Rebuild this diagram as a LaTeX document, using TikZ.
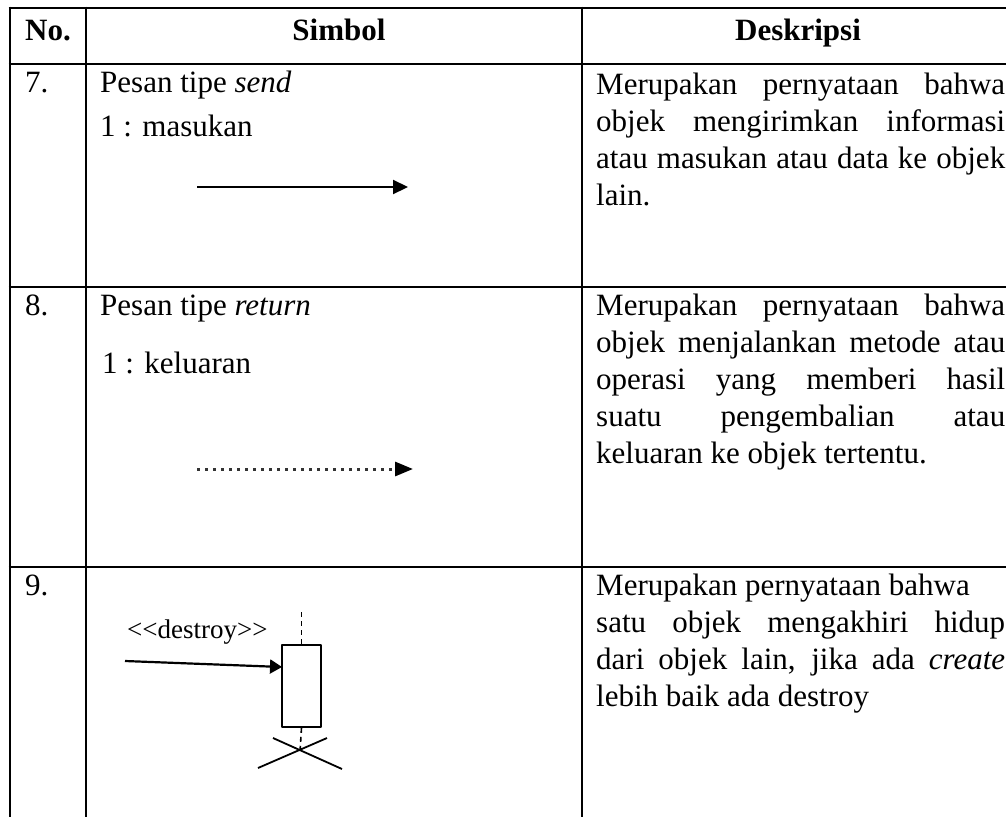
\documentclass[tikz,border=0pt]{standalone}
\usepackage{fontspec}
\setmainfont{Liberation Serif}
\usetikzlibrary{arrows.meta}
\tikzset{
  txt/.style={anchor=base west,inner sep=0pt,font=\fontsize{31}{37}\selectfont},
  hd/.style={anchor=base,inner sep=0pt,font=\fontsize{31}{37}\selectfont\bfseries},
  rule/.style={line width=2.6pt},
  msg/.style={line width=2.2pt,-{Triangle[length=15pt,width=14pt]}}
}
\newcommand{\jline}[1]{\makebox[409pt][s]{#1}}
\begin{document}
\begin{tikzpicture}[x=1pt,y=-1pt,line join=round]
  \useasboundingbox (0,0) rectangle (1006,817);
  \foreach \y in {8,64,287,567} \draw[rule] (8.7,\y) -- (1006,\y);
  \foreach \x in {10,86,582} \draw[rule] (\x,6.7) -- (\x,817);
  \node[hd] (no) at (48,40) {No.};
  \node[hd] (simbol) at (339,40) {Simbol};
  \node[hd] (desk) at (798,40) {Deskripsi};
  \node[txt] (n7) at (25,92) {7.};
  \node[txt] (send) at (100,92) {Pesan tipe \textit{send}};
  \node[txt] (masukan) at (100,136) {1 : masukan};
  \coordinate (s0) at (197,187);
  \coordinate (s1) at (408,187);
  \draw[msg] (s0) -- (s1);
  \node[txt] (d7a) at (596,94) {\jline{Merupakan pernyataan bahwa}};
  \node[txt] (d7b) at (596,131) {\jline{objek mengirimkan informasi}};
  \node[txt] (d7c) at (596,168) {\jline{atau masukan atau data ke objek}};
  \node[txt] (d7d) at (596,205) {lain.};
  \node[txt] (n8) at (25,315) {8.};
  \node[txt] (return) at (100,315) {Pesan tipe \textit{return}};
  \node[txt] (keluaran) at (102,373) {1 : keluaran};
  \coordinate (r0) at (197,469);
  \coordinate (r1) at (413,469);
  \draw[line width=3pt,black!80,dash pattern=on 3pt off 5pt,
    -{Triangle[length=18pt,width=14pt,black]}] (r0) -- (r1);
  \node[txt] (d8a) at (596,315) {\jline{Merupakan pernyataan bahwa}};
  \node[txt] (d8b) at (596,352) {\jline{objek menjalankan metode atau}};
  \node[txt] (d8c) at (596,389) {\jline{operasi yang memberi hasil}};
  \node[txt] (d8d) at (596,426) {\jline{suatu pengembalian atau}};
  \node[txt] (d8e) at (596,463) {keluaran ke objek tertentu.};
  \node[txt] (n9) at (25,595) {9.};
  \node[txt,font=\fontsize{27}{31}\selectfont] (destroy) at (127,638) {<{}<destroy>{}>};
  \node[draw,line width=1.6pt,inner sep=0pt,minimum width=39pt,minimum height=82pt]
    (box) at (301.5,686) {};
  \coordinate (top) at (301.5,612);
  \coordinate (xc) at (300,752);
  \draw[line width=1.6pt,dash pattern=on 5pt off 4pt] (top) -- (box.north);
  \draw[line width=1.6pt,dash pattern=on 5pt off 4pt] (box.south) -- (xc);
  \coordinate (a0) at (125,661);
  \coordinate (a1) at (282,667);
  \draw[line width=2.2pt,-{Triangle[length=12pt,width=14pt]}] (a0) -- (a1);
  \draw[line width=1.8pt] (258,768) -- (327,738) (273,738) -- (342,769);
  \node[txt] (d9a) at (596,595) {Merupakan pernyataan bahwa};
  \node[txt] (d9b) at (596,632) {\jline{satu objek mengakhiri hidup}};
  \node[txt] (d9c) at (596,669) {\jline{dari objek lain, jika ada \textit{create}}};
  \node[txt] (d9d) at (596,706) {lebih baik ada destroy};
\end{tikzpicture}
\end{document}
